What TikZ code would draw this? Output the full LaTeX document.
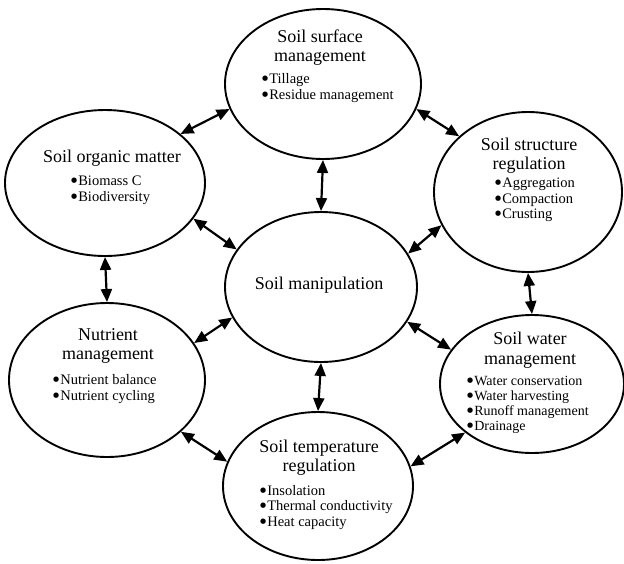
\documentclass[tikz,border=0pt]{standalone}
\usepackage{fontspec}
\setmainfont{Liberation Serif}
\newfontfamily\symf{DejaVu Sans}
\usetikzlibrary{shapes.geometric,arrows.meta}
\newcommand\bul{{\fontsize{7}{7}\selectfont\symf\raisebox{3.2pt}{●}}\hspace{1pt}}
\begin{document}
\begin{tikzpicture}[x=1pt,y=-1pt,
  oval/.style={ellipse,draw,line width=1.9pt,inner sep=0pt},
  ttl/.style={font=\fontsize{18}{19.5}\selectfont,align=center,inner sep=0pt},
  items/.style={font=\fontsize{14.5}{15.5}\selectfont,align=left,inner sep=0pt,anchor=west},
  dar/.style={line width=2.2pt,{Triangle[length=13pt,width=11pt]}-{Triangle[length=13pt,width=11pt]}}
]
\useasboundingbox[fill=white] (0,0) rectangle (624,563);
% ellipses
\node[oval,minimum width=196pt,minimum height=150pt] (surf) at (323,84) {};
\node[oval,minimum width=200pt,minimum height=146pt] (org) at (105,183) {};
\node[oval,minimum width=188pt,minimum height=160pt] (str) at (528,192) {};
\node[oval,minimum width=192pt,minimum height=150pt] (cen) at (321,287) {};
\node[oval,minimum width=196pt,minimum height=154pt] (nut) at (107,380) {};
\node[oval,minimum width=184pt,minimum height=138pt] (wat) at (532,384) {};
\node[oval,minimum width=190pt,minimum height=148pt] (tem) at (318,486) {};
% texts
\node[ttl] (surfT) at (320,47.5) {Soil surface\\management};
\node[items] (surfI) at (262,88) {\bul Tillage\\\bul Residue management};
\node[ttl] (orgT) at (112,158) {Soil organic matter};
\node[items] (orgI) at (71,190.5) {\bul Biomass C\\\bul Biodiversity};
\node[ttl] (strT) at (529,155.5) {Soil structure\\regulation};
\node[items] (strI) at (495,200) {\bul Aggregation\\\bul Compaction\\\bul Crusting};
\node[ttl] (cenT) at (319,285) {Soil manipulation};
\node[ttl] (nutT) at (108,346) {Nutrient\\management};
\node[items] (nutI) at (53,389) {\bul Nutrient balance\\\bul Nutrient cycling};
\node[ttl] (watT) at (530,350) {Soil water\\management};
\node[items,font=\fontsize{14}{15}\selectfont] (watI) at (467,405) {\bul Water conservation\\\bul Water harvesting\\\bul Runoff management\\\bul Drainage};
\node[ttl] (temT) at (319,457.5) {Soil temperature\\regulation};
\node[items] (temI) at (260,507.5) {\bul Insolation\\\bul Thermal conductivity\\\bul Heat capacity};
% connectors
\draw[dar] (org.33.5) -- (surf.195);
\draw[dar] (surf.-15.6) -- (str.141);
\draw[dar] (surf.south) -- (cen.north);
\draw[dar] (org.-22.8) -- (cen.156);
\draw[dar] (cen.21.7) -- (str.201.4);
\draw[dar] (org.south) -- (nut.north);
\draw[dar] (str.south) -- (wat.north);
\draw[dar] (nut.23.4) -- (cen.199.4);
\draw[dar] (cen.-22.1) -- (wat.157.7);
\draw[dar] (cen.south) -- (tem.north);
\draw[dar] (nut.-35.9) -- (tem.165.2);
\draw[dar] (wat.216.5) -- (tem.12.6);
\end{tikzpicture}
\end{document}
